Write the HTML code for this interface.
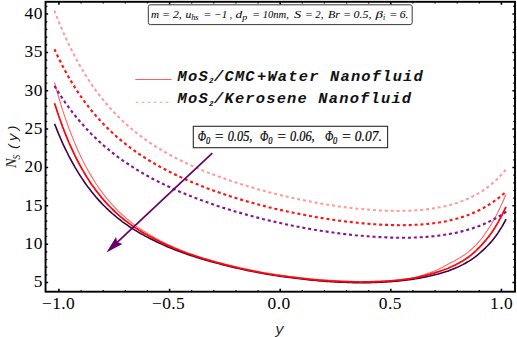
<!DOCTYPE html>
<html lang="en">
<head>
<meta charset="utf-8">
<title>Ns(y) plot</title>
<style>
html,body{margin:0;padding:0;background:#fff;}
body{width:517px;height:337px;overflow:hidden;}
svg{display:block;}
.ser{font-family:"Liberation Serif","DejaVu Serif",serif;}
.mono{font-family:"Liberation Mono","DejaVu Sans Mono",monospace;}
</style>
</head>
<body>
<svg width="517" height="337" viewBox="0 0 517 337">
<rect width="517" height="337" fill="#fff"/>

<!-- curves -->
<g fill="none" stroke-linejoin="round">
<path d="M54.5 123.7 L56.6 128.9 L58.6 133.9 L60.7 138.7 L62.7 143.4 L64.8 147.8 L66.9 152.0 L68.9 156.1 L71.0 160.0 L73.1 163.8 L75.1 167.4 L77.2 170.9 L79.2 174.2 L81.3 177.4 L83.4 180.5 L85.4 183.5 L87.5 186.4 L89.6 189.1 L91.6 191.7 L93.7 194.3 L95.7 196.7 L97.8 199.1 L99.9 201.4 L101.9 203.6 L104.0 205.7 L106.1 207.8 L108.1 209.7 L110.2 211.6 L112.2 213.5 L114.3 215.2 L116.4 217.0 L118.4 218.6 L120.5 220.2 L122.5 221.8 L124.6 223.3 L126.7 224.7 L128.7 226.2 L130.8 227.5 L132.9 228.9 L134.9 230.1 L137.0 231.4 L139.0 232.6 L141.1 233.8 L143.2 234.9 L145.2 236.1 L147.3 237.1 L149.4 238.2 L151.4 239.2 L153.5 240.2 L155.5 241.2 L157.6 242.2 L159.7 243.2 L161.7 244.1 L163.8 245.1 L165.9 246.0 L167.9 246.9 L170.0 247.7 L172.0 248.6 L174.1 249.4 L176.2 250.3 L178.2 251.1 L180.3 251.8 L182.4 252.6 L184.4 253.3 L186.5 254.1 L188.5 254.8 L190.6 255.5 L192.7 256.1 L194.7 256.8 L196.8 257.4 L198.8 258.1 L200.9 258.7 L203.0 259.3 L205.0 259.9 L207.1 260.5 L209.2 261.1 L211.2 261.6 L213.3 262.2 L215.3 262.8 L217.4 263.3 L219.5 263.8 L221.5 264.4 L223.6 264.9 L225.7 265.4 L227.7 265.9 L229.8 266.4 L231.8 266.9 L233.9 267.4 L236.0 267.9 L238.0 268.3 L240.1 268.8 L242.2 269.2 L244.2 269.7 L246.3 270.1 L248.3 270.6 L250.4 271.0 L252.5 271.4 L254.5 271.8 L256.6 272.2 L258.6 272.6 L260.7 273.0 L262.8 273.4 L264.8 273.8 L266.9 274.1 L269.0 274.5 L271.0 274.8 L273.1 275.1 L275.1 275.4 L277.2 275.8 L279.3 276.1 L281.3 276.4 L283.4 276.6 L285.5 276.9 L287.5 277.2 L289.6 277.5 L291.6 277.7 L293.7 278.0 L295.8 278.3 L297.8 278.5 L299.9 278.8 L302.0 279.0 L304.0 279.3 L306.1 279.5 L308.1 279.7 L310.2 279.9 L312.3 280.1 L314.3 280.3 L316.4 280.5 L318.4 280.7 L320.5 280.9 L322.6 281.0 L324.6 281.2 L326.7 281.4 L328.8 281.5 L330.8 281.6 L332.9 281.8 L334.9 281.9 L337.0 282.0 L339.1 282.1 L341.1 282.2 L343.2 282.3 L345.3 282.3 L347.3 282.4 L349.4 282.5 L351.4 282.5 L353.5 282.6 L355.6 282.6 L357.6 282.6 L359.7 282.6 L361.8 282.6 L363.8 282.6 L365.9 282.6 L367.9 282.6 L370.0 282.6 L372.1 282.5 L374.1 282.5 L376.2 282.4 L378.2 282.3 L380.3 282.2 L382.4 282.1 L384.4 282.0 L386.5 281.9 L388.6 281.8 L390.6 281.6 L392.7 281.4 L394.7 281.3 L396.8 281.1 L398.9 280.9 L400.9 280.7 L403.0 280.5 L405.1 280.2 L407.1 280.0 L409.2 279.7 L411.2 279.4 L413.3 279.1 L415.4 278.8 L417.4 278.4 L419.5 278.1 L421.6 277.7 L423.6 277.3 L425.7 276.9 L427.7 276.4 L429.8 276.0 L431.9 275.5 L433.9 275.0 L436.0 274.5 L438.1 274.0 L440.1 273.4 L442.2 272.8 L444.2 272.2 L446.3 271.6 L448.4 270.9 L450.4 270.1 L452.5 269.3 L454.5 268.5 L456.6 267.6 L458.7 266.6 L460.7 265.6 L462.8 264.6 L464.9 263.5 L466.9 262.3 L469.0 261.1 L471.0 259.8 L473.1 258.4 L475.2 256.9 L477.2 255.3 L479.3 253.5 L481.4 251.7 L483.4 249.8 L485.5 247.8 L487.5 245.8 L489.6 243.6 L491.7 241.2 L493.7 238.7 L495.8 236.0 L497.9 233.1 L499.9 229.9 L502.0 226.6 L504.0 223.0 L506.1 219.1" stroke="#3a0446" stroke-width="1.6"/>
<path d="M54.5 82.4 L56.6 89.9 L58.6 97.0 L60.7 103.9 L62.7 110.4 L64.8 116.6 L66.9 122.6 L68.9 128.3 L71.0 133.7 L73.1 138.9 L75.1 143.9 L77.2 148.7 L79.2 153.2 L81.3 157.5 L83.4 161.7 L85.4 165.7 L87.5 169.5 L89.5 173.1 L91.6 176.6 L93.7 180.0 L95.7 183.2 L97.8 186.3 L99.8 189.2 L101.9 192.1 L104.0 194.8 L106.0 197.4 L108.1 199.9 L110.2 202.3 L112.2 204.7 L114.3 206.9 L116.3 209.0 L118.4 211.1 L120.5 213.1 L122.5 215.0 L124.6 216.8 L126.6 218.6 L128.7 220.3 L130.8 222.0 L132.8 223.6 L134.9 225.1 L136.9 226.6 L139.0 228.1 L141.1 229.5 L143.1 230.8 L145.2 232.1 L147.3 233.4 L149.3 234.6 L151.4 235.8 L153.4 237.0 L155.5 238.2 L157.6 239.3 L159.6 240.4 L161.7 241.4 L163.7 242.5 L165.8 243.5 L167.9 244.5 L169.9 245.5 L172.0 246.4 L174.0 247.3 L176.1 248.2 L178.2 249.1 L180.2 250.0 L182.3 250.8 L184.4 251.6 L186.4 252.4 L188.5 253.2 L190.5 253.9 L192.6 254.6 L194.7 255.3 L196.7 256.0 L198.8 256.7 L200.8 257.3 L202.9 258.0 L205.0 258.6 L207.0 259.2 L209.1 259.8 L211.2 260.4 L213.2 261.0 L215.3 261.6 L217.3 262.2 L219.4 262.7 L221.5 263.3 L223.5 263.8 L225.6 264.3 L227.6 264.8 L229.7 265.3 L231.8 265.8 L233.8 266.3 L235.9 266.8 L237.9 267.3 L240.0 267.8 L242.1 268.2 L244.1 268.7 L246.2 269.1 L248.3 269.5 L250.3 269.9 L252.4 270.4 L254.4 270.8 L256.5 271.2 L258.6 271.6 L260.6 272.0 L262.7 272.3 L264.7 272.7 L266.8 273.0 L268.9 273.4 L270.9 273.7 L273.0 274.0 L275.0 274.3 L277.1 274.7 L279.2 274.9 L281.2 275.2 L283.3 275.5 L285.4 275.8 L287.4 276.1 L289.5 276.3 L291.5 276.6 L293.6 276.8 L295.7 277.1 L297.7 277.3 L299.8 277.6 L301.8 277.8 L303.9 278.1 L306.0 278.3 L308.0 278.5 L310.1 278.7 L312.1 278.9 L314.2 279.1 L316.3 279.3 L318.3 279.5 L320.4 279.7 L322.5 279.8 L324.5 280.0 L326.6 280.1 L328.6 280.3 L330.7 280.4 L332.8 280.6 L334.8 280.7 L336.9 280.8 L338.9 280.9 L341.0 281.0 L343.1 281.1 L345.1 281.2 L347.2 281.2 L349.2 281.3 L351.3 281.4 L353.4 281.4 L355.4 281.5 L357.5 281.5 L359.6 281.5 L361.6 281.5 L363.7 281.5 L365.7 281.5 L367.8 281.5 L369.9 281.5 L371.9 281.4 L374.0 281.4 L376.0 281.3 L378.1 281.3 L380.2 281.2 L382.2 281.1 L384.3 281.0 L386.4 280.8 L388.4 280.7 L390.5 280.5 L392.5 280.4 L394.6 280.2 L396.7 280.0 L398.7 279.8 L400.8 279.5 L402.8 279.3 L404.9 279.0 L407.0 278.7 L409.0 278.4 L411.1 278.0 L413.1 277.7 L415.2 277.2 L417.3 276.8 L419.3 276.2 L421.4 275.6 L423.5 275.0 L425.5 274.3 L427.6 273.6 L429.6 272.9 L431.7 272.1 L433.8 271.3 L435.8 270.4 L437.9 269.4 L439.9 268.4 L442.0 267.4 L444.1 266.3 L446.1 265.2 L448.2 264.1 L450.2 263.0 L452.3 261.9 L454.4 260.9 L456.4 259.8 L458.5 258.6 L460.6 257.4 L462.6 256.1 L464.7 254.7 L466.7 253.1 L468.8 251.6 L470.9 249.8 L472.9 248.0 L475.0 246.0 L477.0 243.8 L479.1 241.5 L481.2 239.0 L483.2 236.3 L485.3 233.5 L487.3 230.5 L489.4 227.4 L491.5 224.0 L493.5 220.5 L495.6 216.7 L497.7 212.7 L499.7 208.5 L501.8 204.1 L503.8 199.4 L505.9 194.4" stroke="#ff6a6a" stroke-width="1.15"/>
<path d="M54.5 103.2 L56.6 109.6 L58.6 115.7 L60.7 121.5 L62.7 127.1 L64.8 132.5 L66.9 137.6 L68.9 142.5 L71.0 147.2 L73.1 151.7 L75.1 155.9 L77.2 160.0 L79.2 164.0 L81.3 167.7 L83.4 171.4 L85.4 174.8 L87.5 178.1 L89.5 181.3 L91.6 184.4 L93.7 187.3 L95.7 190.1 L97.8 192.8 L99.9 195.4 L101.9 197.9 L104.0 200.3 L106.0 202.6 L108.1 204.8 L110.2 207.0 L112.2 209.0 L114.3 211.0 L116.3 212.9 L118.4 214.8 L120.5 216.6 L122.5 218.3 L124.6 220.0 L126.7 221.6 L128.7 223.1 L130.8 224.6 L132.8 226.1 L134.9 227.5 L137.0 228.8 L139.0 230.2 L141.1 231.4 L143.2 232.7 L145.2 233.9 L147.3 235.1 L149.3 236.2 L151.4 237.3 L153.5 238.4 L155.5 239.5 L157.6 240.5 L159.6 241.6 L161.7 242.6 L163.8 243.5 L165.8 244.5 L167.9 245.5 L170.0 246.4 L172.0 247.3 L174.1 248.2 L176.1 249.0 L178.2 249.9 L180.3 250.7 L182.3 251.5 L184.4 252.3 L186.4 253.0 L188.5 253.8 L190.6 254.5 L192.6 255.2 L194.7 255.9 L196.8 256.5 L198.8 257.2 L200.9 257.9 L202.9 258.5 L205.0 259.1 L207.1 259.7 L209.1 260.3 L211.2 260.9 L213.2 261.5 L215.3 262.1 L217.4 262.6 L219.4 263.2 L221.5 263.7 L223.6 264.3 L225.6 264.8 L227.7 265.3 L229.7 265.8 L231.8 266.3 L233.9 266.8 L235.9 267.3 L238.0 267.8 L240.0 268.3 L242.1 268.7 L244.2 269.2 L246.2 269.6 L248.3 270.1 L250.4 270.5 L252.4 270.9 L254.5 271.3 L256.5 271.7 L258.6 272.1 L260.7 272.5 L262.7 272.9 L264.8 273.3 L266.8 273.6 L268.9 274.0 L271.0 274.3 L273.0 274.6 L275.1 275.0 L277.2 275.3 L279.2 275.6 L281.3 275.9 L283.3 276.1 L285.4 276.4 L287.5 276.7 L289.5 277.0 L291.6 277.2 L293.7 277.5 L295.7 277.7 L297.8 278.0 L299.8 278.2 L301.9 278.5 L304.0 278.7 L306.0 278.9 L308.1 279.1 L310.1 279.4 L312.2 279.6 L314.3 279.8 L316.3 279.9 L318.4 280.1 L320.5 280.3 L322.5 280.4 L324.6 280.6 L326.6 280.7 L328.7 280.9 L330.8 281.0 L332.8 281.1 L334.9 281.2 L336.9 281.4 L339.0 281.4 L341.1 281.5 L343.1 281.6 L345.2 281.7 L347.3 281.7 L349.3 281.8 L351.4 281.9 L353.4 281.9 L355.5 281.9 L357.6 281.9 L359.6 282.0 L361.7 282.0 L363.7 281.9 L365.8 281.9 L367.9 281.9 L369.9 281.9 L372.0 281.8 L374.1 281.8 L376.1 281.7 L378.2 281.6 L380.2 281.5 L382.3 281.4 L384.4 281.3 L386.4 281.1 L388.5 281.0 L390.5 280.8 L392.6 280.7 L394.7 280.5 L396.7 280.3 L398.8 280.1 L400.9 279.9 L402.9 279.6 L405.0 279.4 L407.0 279.1 L409.1 278.8 L411.2 278.5 L413.2 278.1 L415.3 277.8 L417.3 277.3 L419.4 276.9 L421.5 276.4 L423.5 275.9 L425.6 275.4 L427.7 274.8 L429.7 274.3 L431.8 273.7 L433.8 273.1 L435.9 272.4 L438.0 271.8 L440.0 271.2 L442.1 270.5 L444.2 269.7 L446.2 269.0 L448.3 268.2 L450.3 267.3 L452.4 266.3 L454.5 265.4 L456.5 264.3 L458.6 263.2 L460.6 262.1 L462.7 260.9 L464.8 259.6 L466.8 258.2 L468.9 256.7 L471.0 255.1 L473.0 253.3 L475.1 251.5 L477.1 249.5 L479.2 247.5 L481.3 245.3 L483.3 243.1 L485.4 240.7 L487.4 238.2 L489.5 235.6 L491.6 232.7 L493.6 229.7 L495.7 226.4 L497.8 222.9 L499.8 219.2 L501.9 215.4 L503.9 211.2 L506.0 206.8" stroke="#ff0505" stroke-width="1.75"/>
<path d="M54.4 10.5 L56.5 15.9 L58.5 21.1 L60.6 26.1 L62.6 30.9 L64.7 35.6 L66.8 40.1 L68.8 44.5 L70.9 48.7 L73.0 52.8 L75.0 56.8 L77.1 60.6 L79.1 64.3 L81.2 67.9 L83.3 71.4 L85.3 74.8 L87.4 78.0 L89.5 81.2 L91.5 84.3 L93.6 87.2 L95.6 90.1 L97.7 92.9 L99.8 95.6 L101.8 98.3 L103.9 100.8 L106.0 103.3 L108.0 105.7 L110.1 108.1 L112.1 110.3 L114.2 112.5 L116.3 114.7 L118.3 116.8 L120.4 118.8 L122.4 120.8 L124.5 122.7 L126.6 124.6 L128.6 126.4 L130.7 128.2 L132.8 129.9 L134.8 131.6 L136.9 133.2 L138.9 134.8 L141.0 136.4 L143.1 137.9 L145.1 139.4 L147.2 140.9 L149.3 142.3 L151.3 143.7 L153.4 145.0 L155.4 146.3 L157.5 147.6 L159.6 148.9 L161.6 150.1 L163.7 151.4 L165.8 152.6 L167.8 153.7 L169.9 154.9 L171.9 156.0 L174.0 157.1 L176.1 158.1 L178.1 159.2 L180.2 160.2 L182.3 161.2 L184.3 162.2 L186.4 163.2 L188.4 164.2 L190.5 165.1 L192.6 166.1 L194.6 167.0 L196.7 167.9 L198.7 168.8 L200.8 169.6 L202.9 170.5 L204.9 171.3 L207.0 172.1 L209.1 173.0 L211.1 173.8 L213.2 174.5 L215.2 175.3 L217.3 176.1 L219.4 176.8 L221.4 177.6 L223.5 178.3 L225.6 179.0 L227.6 179.8 L229.7 180.5 L231.7 181.2 L233.8 181.8 L235.9 182.5 L237.9 183.2 L240.0 183.8 L242.1 184.5 L244.1 185.1 L246.2 185.8 L248.2 186.4 L250.3 187.0 L252.4 187.6 L254.4 188.2 L256.5 188.8 L258.5 189.4 L260.6 189.9 L262.7 190.5 L264.7 191.1 L266.8 191.6 L268.9 192.2 L270.9 192.7 L273.0 193.2 L275.0 193.7 L277.1 194.3 L279.2 194.8 L281.2 195.3 L283.3 195.8 L285.4 196.3 L287.4 196.7 L289.5 197.2 L291.5 197.7 L293.6 198.1 L295.7 198.6 L297.7 199.0 L299.8 199.5 L301.9 199.9 L303.9 200.3 L306.0 200.7 L308.0 201.1 L310.1 201.5 L312.2 201.9 L314.2 202.3 L316.3 202.7 L318.3 203.1 L320.4 203.4 L322.5 203.8 L324.5 204.1 L326.6 204.5 L328.7 204.8 L330.7 205.2 L332.8 205.5 L334.8 205.8 L336.9 206.1 L339.0 206.4 L341.0 206.7 L343.1 206.9 L345.2 207.2 L347.2 207.5 L349.3 207.7 L351.3 208.0 L353.4 208.2 L355.5 208.4 L357.5 208.7 L359.6 208.9 L361.7 209.1 L363.7 209.3 L365.8 209.5 L367.8 209.6 L369.9 209.8 L372.0 209.9 L374.0 210.1 L376.1 210.2 L378.1 210.3 L380.2 210.4 L382.3 210.5 L384.3 210.6 L386.4 210.7 L388.5 210.8 L390.5 210.8 L392.6 210.8 L394.6 210.9 L396.7 210.9 L398.8 210.9 L400.8 210.9 L402.9 210.8 L405.0 210.8 L407.0 210.7 L409.1 210.7 L411.1 210.6 L413.2 210.5 L415.3 210.3 L417.3 210.2 L419.4 210.0 L421.5 209.9 L423.5 209.7 L425.6 209.4 L427.6 209.2 L429.7 208.9 L431.8 208.6 L433.8 208.3 L435.9 208.0 L438.0 207.6 L440.0 207.3 L442.1 206.8 L444.1 206.4 L446.2 205.9 L448.3 205.4 L450.3 204.9 L452.4 204.3 L454.4 203.7 L456.5 203.1 L458.6 202.4 L460.6 201.6 L462.7 200.9 L464.8 200.1 L466.8 199.2 L468.9 198.3 L470.9 197.3 L473.0 196.3 L475.1 195.2 L477.1 194.1 L479.2 192.9 L481.3 191.6 L483.3 190.3 L485.4 188.8 L487.4 187.3 L489.5 185.8 L491.6 184.1 L493.6 182.3 L495.7 180.5 L497.8 178.5 L499.8 176.4 L501.9 174.2 L503.9 171.9 L506.0 169.4" stroke="#ff9a9a" stroke-width="2.05" stroke-dasharray="3 2.9"/>
<path d="M54.4 49.2 L56.5 53.6 L58.5 57.9 L60.6 62.1 L62.6 66.1 L64.7 70.0 L66.8 73.8 L68.8 77.4 L70.9 80.9 L73.0 84.3 L75.0 87.6 L77.1 90.8 L79.1 93.9 L81.2 96.9 L83.3 99.8 L85.3 102.6 L87.4 105.3 L89.4 108.0 L91.5 110.5 L93.6 113.0 L95.6 115.4 L97.7 117.8 L99.8 120.1 L101.8 122.3 L103.9 124.5 L105.9 126.6 L108.0 128.6 L110.1 130.6 L112.1 132.5 L114.2 134.4 L116.2 136.3 L118.3 138.1 L120.4 139.8 L122.4 141.5 L124.5 143.2 L126.6 144.8 L128.6 146.4 L130.7 148.0 L132.7 149.5 L134.8 151.0 L136.9 152.4 L138.9 153.8 L141.0 155.2 L143.1 156.6 L145.1 157.9 L147.2 159.2 L149.2 160.5 L151.3 161.7 L153.4 163.0 L155.4 164.2 L157.5 165.3 L159.5 166.5 L161.6 167.6 L163.7 168.7 L165.7 169.8 L167.8 170.9 L169.9 172.0 L171.9 173.0 L174.0 174.0 L176.0 175.0 L178.1 176.0 L180.2 176.9 L182.2 177.9 L184.3 178.8 L186.3 179.7 L188.4 180.6 L190.5 181.5 L192.5 182.4 L194.6 183.3 L196.7 184.1 L198.7 184.9 L200.8 185.8 L202.8 186.6 L204.9 187.4 L207.0 188.2 L209.0 188.9 L211.1 189.7 L213.1 190.4 L215.2 191.2 L217.3 191.9 L219.3 192.6 L221.4 193.3 L223.5 194.0 L225.5 194.7 L227.6 195.4 L229.6 196.1 L231.7 196.7 L233.8 197.4 L235.8 198.0 L237.9 198.6 L239.9 199.3 L242.0 199.9 L244.1 200.5 L246.1 201.1 L248.2 201.7 L250.3 202.3 L252.3 202.8 L254.4 203.4 L256.4 204.0 L258.5 204.5 L260.6 205.1 L262.6 205.6 L264.7 206.1 L266.7 206.6 L268.8 207.2 L270.9 207.7 L272.9 208.2 L275.0 208.7 L277.1 209.1 L279.1 209.6 L281.2 210.1 L283.2 210.6 L285.3 211.0 L287.4 211.5 L289.4 211.9 L291.5 212.3 L293.6 212.8 L295.6 213.2 L297.7 213.6 L299.7 214.0 L301.8 214.4 L303.9 214.8 L305.9 215.2 L308.0 215.6 L310.0 216.0 L312.1 216.3 L314.2 216.7 L316.2 217.1 L318.3 217.4 L320.4 217.8 L322.4 218.1 L324.5 218.4 L326.5 218.8 L328.6 219.1 L330.7 219.4 L332.7 219.7 L334.8 220.0 L336.8 220.3 L338.9 220.6 L341.0 220.8 L343.0 221.1 L345.1 221.4 L347.2 221.6 L349.2 221.9 L351.3 222.1 L353.3 222.3 L355.4 222.6 L357.5 222.8 L359.5 223.0 L361.6 223.2 L363.6 223.4 L365.7 223.5 L367.8 223.7 L369.8 223.9 L371.9 224.0 L374.0 224.2 L376.0 224.3 L378.1 224.5 L380.1 224.6 L382.2 224.7 L384.3 224.8 L386.3 224.9 L388.4 224.9 L390.4 225.0 L392.5 225.1 L394.6 225.1 L396.6 225.1 L398.7 225.2 L400.8 225.2 L402.8 225.2 L404.9 225.1 L406.9 225.1 L409.0 225.1 L411.1 225.0 L413.1 224.9 L415.2 224.8 L417.2 224.7 L419.3 224.6 L421.4 224.5 L423.4 224.3 L425.5 224.1 L427.6 223.9 L429.6 223.7 L431.7 223.5 L433.7 223.2 L435.8 222.9 L437.9 222.6 L439.9 222.3 L442.0 221.9 L444.1 221.6 L446.1 221.2 L448.2 220.7 L450.2 220.3 L452.3 219.8 L454.4 219.3 L456.4 218.7 L458.5 218.1 L460.5 217.5 L462.6 216.9 L464.7 216.2 L466.7 215.5 L468.8 214.7 L470.9 213.9 L472.9 213.0 L475.0 212.1 L477.0 211.2 L479.1 210.2 L481.2 209.2 L483.2 208.1 L485.3 206.9 L487.3 205.7 L489.4 204.4 L491.5 203.1 L493.5 201.7 L495.6 200.3 L497.7 198.7 L499.7 197.1 L501.8 195.4 L503.8 193.7 L505.9 191.8" stroke="#ff1212" stroke-width="2.15" stroke-dasharray="3 2.9"/>
<path d="M54.5 85.9 L56.6 89.3 L58.6 92.6 L60.7 95.8 L62.8 98.9 L64.8 101.9 L66.9 104.8 L68.9 107.7 L71.0 110.4 L73.1 113.1 L75.1 115.7 L77.2 118.2 L79.3 120.7 L81.3 123.1 L83.4 125.4 L85.4 127.7 L87.5 129.9 L89.6 132.1 L91.6 134.2 L93.7 136.2 L95.8 138.2 L97.8 140.2 L99.9 142.1 L101.9 143.9 L104.0 145.8 L106.1 147.5 L108.1 149.2 L110.2 150.9 L112.3 152.6 L114.3 154.2 L116.4 155.8 L118.4 157.3 L120.5 158.8 L122.6 160.3 L124.6 161.7 L126.7 163.1 L128.8 164.5 L130.8 165.9 L132.9 167.2 L134.9 168.5 L137.0 169.8 L139.1 171.0 L141.1 172.3 L143.2 173.5 L145.3 174.6 L147.3 175.8 L149.4 176.9 L151.4 178.1 L153.5 179.2 L155.6 180.2 L157.6 181.3 L159.7 182.3 L161.8 183.4 L163.8 184.4 L165.9 185.4 L167.9 186.3 L170.0 187.3 L172.1 188.3 L174.1 189.2 L176.2 190.1 L178.3 191.0 L180.3 191.9 L182.4 192.8 L184.4 193.6 L186.5 194.5 L188.6 195.3 L190.6 196.1 L192.7 197.0 L194.8 197.8 L196.8 198.5 L198.9 199.3 L200.9 200.1 L203.0 200.8 L205.1 201.6 L207.1 202.3 L209.2 203.1 L211.3 203.8 L213.3 204.5 L215.4 205.2 L217.4 205.9 L219.5 206.6 L221.6 207.2 L223.6 207.9 L225.7 208.5 L227.8 209.2 L229.8 209.8 L231.9 210.4 L233.9 211.1 L236.0 211.7 L238.1 212.3 L240.1 212.9 L242.2 213.5 L244.3 214.1 L246.3 214.6 L248.4 215.2 L250.4 215.8 L252.5 216.3 L254.6 216.8 L256.6 217.4 L258.7 217.9 L260.8 218.4 L262.8 219.0 L264.9 219.5 L266.9 220.0 L269.0 220.5 L271.1 221.0 L273.1 221.4 L275.2 221.9 L277.3 222.4 L279.3 222.8 L281.4 223.3 L283.4 223.7 L285.5 224.2 L287.6 224.6 L289.6 225.0 L291.7 225.5 L293.8 225.9 L295.8 226.3 L297.9 226.7 L299.9 227.1 L302.0 227.5 L304.1 227.9 L306.1 228.2 L308.2 228.6 L310.3 229.0 L312.3 229.3 L314.4 229.7 L316.4 230.0 L318.5 230.4 L320.6 230.7 L322.6 231.0 L324.7 231.3 L326.8 231.6 L328.8 231.9 L330.9 232.2 L332.9 232.5 L335.0 232.8 L337.1 233.1 L339.1 233.4 L341.2 233.6 L343.3 233.9 L345.3 234.1 L347.4 234.4 L349.4 234.6 L351.5 234.8 L353.6 235.0 L355.6 235.3 L357.7 235.5 L359.8 235.6 L361.8 235.8 L363.9 236.0 L365.9 236.2 L368.0 236.3 L370.1 236.5 L372.1 236.6 L374.2 236.8 L376.3 236.9 L378.3 237.0 L380.4 237.1 L382.4 237.2 L384.5 237.3 L386.6 237.4 L388.6 237.5 L390.7 237.6 L392.8 237.6 L394.8 237.7 L396.9 237.7 L398.9 237.7 L401.0 237.7 L403.1 237.7 L405.1 237.7 L407.2 237.7 L409.3 237.7 L411.3 237.6 L413.4 237.5 L415.4 237.5 L417.5 237.4 L419.6 237.3 L421.6 237.2 L423.7 237.0 L425.8 236.9 L427.8 236.7 L429.9 236.6 L431.9 236.4 L434.0 236.2 L436.1 235.9 L438.1 235.7 L440.2 235.4 L442.3 235.1 L444.3 234.8 L446.4 234.5 L448.4 234.2 L450.5 233.8 L452.6 233.4 L454.6 233.0 L456.7 232.6 L458.8 232.1 L460.8 231.6 L462.9 231.1 L464.9 230.6 L467.0 230.0 L469.1 229.4 L471.1 228.7 L473.2 228.1 L475.3 227.4 L477.3 226.6 L479.4 225.9 L481.4 225.1 L483.5 224.2 L485.6 223.3 L487.6 222.4 L489.7 221.4 L491.8 220.4 L493.8 219.3 L495.9 218.2 L497.9 217.0 L500.0 215.8 L502.1 214.5 L504.1 213.2 L506.2 211.7" stroke="#851593" stroke-width="2.15" stroke-dasharray="3 2.9"/>
</g>

<!-- frame -->
<g fill="none" stroke="#000" stroke-width="1.3">
<path stroke-width="1.6" d="M58.9 291.7 v-2.9 M58.9 1.8 v2.9"/>
<path stroke-width="1.2" d="M81.1 291.7 v-1.8 M81.1 1.8 v1.8"/>
<path stroke-width="1.2" d="M103.2 291.7 v-1.8 M103.2 1.8 v1.8"/>
<path stroke-width="1.2" d="M125.3 291.7 v-1.8 M125.3 1.8 v1.8"/>
<path stroke-width="1.2" d="M147.4 291.7 v-1.8 M147.4 1.8 v1.8"/>
<path stroke-width="1.6" d="M169.6 291.7 v-2.9 M169.6 1.8 v2.9"/>
<path stroke-width="1.2" d="M191.7 291.7 v-1.8 M191.7 1.8 v1.8"/>
<path stroke-width="1.2" d="M213.8 291.7 v-1.8 M213.8 1.8 v1.8"/>
<path stroke-width="1.2" d="M235.9 291.7 v-1.8 M235.9 1.8 v1.8"/>
<path stroke-width="1.2" d="M258.1 291.7 v-1.8 M258.1 1.8 v1.8"/>
<path stroke-width="1.6" d="M280.2 291.7 v-2.9 M280.2 1.8 v2.9"/>
<path stroke-width="1.2" d="M302.3 291.7 v-1.8 M302.3 1.8 v1.8"/>
<path stroke-width="1.2" d="M324.4 291.7 v-1.8 M324.4 1.8 v1.8"/>
<path stroke-width="1.2" d="M346.6 291.7 v-1.8 M346.6 1.8 v1.8"/>
<path stroke-width="1.2" d="M368.7 291.7 v-1.8 M368.7 1.8 v1.8"/>
<path stroke-width="1.6" d="M390.8 291.7 v-2.9 M390.8 1.8 v2.9"/>
<path stroke-width="1.2" d="M412.9 291.7 v-1.8 M412.9 1.8 v1.8"/>
<path stroke-width="1.2" d="M435.1 291.7 v-1.8 M435.1 1.8 v1.8"/>
<path stroke-width="1.2" d="M457.2 291.7 v-1.8 M457.2 1.8 v1.8"/>
<path stroke-width="1.2" d="M479.3 291.7 v-1.8 M479.3 1.8 v1.8"/>
<path stroke-width="1.6" d="M501.4 291.7 v-2.9 M501.4 1.8 v2.9"/>
<path stroke-width="1.5" d="M45.55 282.5 h2.6 M515.0 282.5 h-2.6"/>
<path stroke-width="1.2" d="M45.55 274.8 h1.8 M515.0 274.8 h-1.8"/>
<path stroke-width="1.2" d="M45.55 267.2 h1.8 M515.0 267.2 h-1.8"/>
<path stroke-width="1.2" d="M45.55 259.5 h1.8 M515.0 259.5 h-1.8"/>
<path stroke-width="1.2" d="M45.55 251.8 h1.8 M515.0 251.8 h-1.8"/>
<path stroke-width="1.5" d="M45.55 244.2 h2.6 M515.0 244.2 h-2.6"/>
<path stroke-width="1.2" d="M45.55 236.5 h1.8 M515.0 236.5 h-1.8"/>
<path stroke-width="1.2" d="M45.55 228.8 h1.8 M515.0 228.8 h-1.8"/>
<path stroke-width="1.2" d="M45.55 221.1 h1.8 M515.0 221.1 h-1.8"/>
<path stroke-width="1.2" d="M45.55 213.5 h1.8 M515.0 213.5 h-1.8"/>
<path stroke-width="1.5" d="M45.55 205.8 h2.6 M515.0 205.8 h-2.6"/>
<path stroke-width="1.2" d="M45.55 198.1 h1.8 M515.0 198.1 h-1.8"/>
<path stroke-width="1.2" d="M45.55 190.5 h1.8 M515.0 190.5 h-1.8"/>
<path stroke-width="1.2" d="M45.55 182.8 h1.8 M515.0 182.8 h-1.8"/>
<path stroke-width="1.2" d="M45.55 175.1 h1.8 M515.0 175.1 h-1.8"/>
<path stroke-width="1.5" d="M45.55 167.5 h2.6 M515.0 167.5 h-2.6"/>
<path stroke-width="1.2" d="M45.55 159.8 h1.8 M515.0 159.8 h-1.8"/>
<path stroke-width="1.2" d="M45.55 152.1 h1.8 M515.0 152.1 h-1.8"/>
<path stroke-width="1.2" d="M45.55 144.5 h1.8 M515.0 144.5 h-1.8"/>
<path stroke-width="1.2" d="M45.55 136.8 h1.8 M515.0 136.8 h-1.8"/>
<path stroke-width="1.5" d="M45.55 129.1 h2.6 M515.0 129.1 h-2.6"/>
<path stroke-width="1.2" d="M45.55 121.5 h1.8 M515.0 121.5 h-1.8"/>
<path stroke-width="1.2" d="M45.55 113.8 h1.8 M515.0 113.8 h-1.8"/>
<path stroke-width="1.2" d="M45.55 106.1 h1.8 M515.0 106.1 h-1.8"/>
<path stroke-width="1.2" d="M45.55 98.4 h1.8 M515.0 98.4 h-1.8"/>
<path stroke-width="1.5" d="M45.55 90.8 h2.6 M515.0 90.8 h-2.6"/>
<path stroke-width="1.2" d="M45.55 83.1 h1.8 M515.0 83.1 h-1.8"/>
<path stroke-width="1.2" d="M45.55 75.4 h1.8 M515.0 75.4 h-1.8"/>
<path stroke-width="1.2" d="M45.55 67.8 h1.8 M515.0 67.8 h-1.8"/>
<path stroke-width="1.2" d="M45.55 60.1 h1.8 M515.0 60.1 h-1.8"/>
<path stroke-width="1.5" d="M45.55 52.4 h2.6 M515.0 52.4 h-2.6"/>
<path stroke-width="1.2" d="M45.55 44.8 h1.8 M515.0 44.8 h-1.8"/>
<path stroke-width="1.2" d="M45.55 37.1 h1.8 M515.0 37.1 h-1.8"/>
<path stroke-width="1.2" d="M45.55 29.4 h1.8 M515.0 29.4 h-1.8"/>
<path stroke-width="1.2" d="M45.55 21.8 h1.8 M515.0 21.8 h-1.8"/>
<path stroke-width="1.5" d="M45.55 14.1 h2.6 M515.0 14.1 h-2.6"/>
<path stroke-width="1.2" d="M45.55 6.4 h1.8 M515.0 6.4 h-1.8"/>
</g>
<rect x="45.55" y="1.8" width="469.45" height="289.9" fill="none" stroke="#000" stroke-width="1.9"/>

<!-- tick labels -->
<g class="ser" font-size="17.4" fill="#000" letter-spacing="0.4">
<text x="42.8" y="287.4" text-anchor="end">5</text>
<text x="42.8" y="249.0" text-anchor="end">10</text>
<text x="42.8" y="210.6" text-anchor="end">15</text>
<text x="42.8" y="172.2" text-anchor="end">20</text>
<text x="42.8" y="133.9" text-anchor="end">25</text>
<text x="42.8" y="95.5" text-anchor="end">30</text>
<text x="42.8" y="57.1" text-anchor="end">35</text>
<text x="42.8" y="18.7" text-anchor="end">40</text>
<text x="58.5" y="309.4" text-anchor="middle">−1.0</text>
<text x="168.6" y="309.4" text-anchor="middle">−0.5</text>
<text x="279.1" y="309.4" text-anchor="middle">0.0</text>
<text x="390.3" y="309.4" text-anchor="middle">0.5</text>
<text x="501.6" y="309.4" text-anchor="middle">1.0</text>
</g>

<!-- axis labels -->
<text class="mono" x="279.5" y="333.5" text-anchor="middle" font-size="15" font-style="italic" fill="#222">y</text>
<g transform="translate(16,167.9) rotate(-90)" fill="#1a1a1a" font-style="italic">
<text class="ser" x="0" y="0" font-size="14.5">N</text>
<text class="ser" x="8.4" y="3.8" font-size="9.5">S</text>
<text class="mono" x="17.6" y="0.6" font-size="13.6" letter-spacing="0.7">(y)</text>
</g>

<!-- parameter box -->
<rect x="148.3" y="4.8" width="263.9" height="19.8" rx="2" ry="2" fill="#fcfcfc" stroke="#3a3a3a" stroke-width="1"/>
<g class="ser" font-size="11.4" font-style="italic" fill="#000">
<text x="150.9" y="18.0" textLength="8.1" lengthAdjust="spacingAndGlyphs">m</text>
<text x="162.1" y="18.0" textLength="8.1" lengthAdjust="spacingAndGlyphs">=</text>
<text x="172.9" y="18.0" textLength="8.8" lengthAdjust="spacingAndGlyphs">2,</text>
<text x="185.4" y="18.0" textLength="5.8" lengthAdjust="spacingAndGlyphs">u</text>
<text x="191.2" y="20.3" font-size="7.4" textLength="7.4" lengthAdjust="spacingAndGlyphs">hs</text>
<text x="203.2" y="18.0" textLength="8.2" lengthAdjust="spacingAndGlyphs">=</text>
<text x="214.3" y="18.0" textLength="13.0" lengthAdjust="spacingAndGlyphs">−1</text>
<text x="229.7" y="18.0" textLength="2.3" lengthAdjust="spacingAndGlyphs">,</text>
<text x="235.4" y="18.0" textLength="6.7" lengthAdjust="spacingAndGlyphs">d</text>
<text x="242.2" y="20.3" font-size="7.4" textLength="5.0" lengthAdjust="spacingAndGlyphs">p</text>
<text x="252.1" y="18.0" textLength="8.1" lengthAdjust="spacingAndGlyphs">=</text>
<text x="262.7" y="18.0" textLength="26.2" lengthAdjust="spacingAndGlyphs">10nm,</text>
<text x="294.1" y="18.0" textLength="7.2" lengthAdjust="spacingAndGlyphs">S</text>
<text x="304.7" y="18.0" textLength="8.1" lengthAdjust="spacingAndGlyphs">=</text>
<text x="315.3" y="18.0" textLength="8.1" lengthAdjust="spacingAndGlyphs">2,</text>
<text x="328.0" y="18.0" textLength="11.9" lengthAdjust="spacingAndGlyphs">Br</text>
<text x="343.0" y="18.0" textLength="8.1" lengthAdjust="spacingAndGlyphs">=</text>
<text x="353.6" y="18.0" textLength="18.0" lengthAdjust="spacingAndGlyphs">0.5,</text>
<text x="375.4" y="18.0" textLength="7.5" lengthAdjust="spacingAndGlyphs">β</text>
<text x="382.9" y="20.3" font-size="7.4" textLength="2.2" lengthAdjust="spacingAndGlyphs">i</text>
<text x="389.1" y="18.0" textLength="8.5" lengthAdjust="spacingAndGlyphs">=</text>
<text x="399.7" y="18.0" textLength="8.8" lengthAdjust="spacingAndGlyphs">6.</text>
</g>

<!-- legend -->
<path d="M135.3 79.4 H171.6" stroke="#ff5e5e" stroke-width="1.05" fill="none"/>
<path d="M135.8 102.3 H168.6" stroke="#ffa8a8" stroke-width="1.25" stroke-dasharray="2.6 3.4" fill="none"/>
<g class="mono" font-size="15.4" font-weight="bold" font-style="italic" fill="#111" letter-spacing="1.2">
<text x="177.6" y="81">MoS<tspan font-size="7.5" dy="2.2" letter-spacing="0.6">2</tspan><tspan dy="-2.2">/CMC</tspan><tspan dx="1.2">+Water Nanofluid</tspan></text>
<text x="177.6" y="103.4">MoS<tspan font-size="7.5" dy="2.2" letter-spacing="0.6">2</tspan><tspan dy="-2.2">/Kerosene Nanofluid</tspan></text>
</g>

<!-- phi box -->
<rect x="193.3" y="126.3" width="194.3" height="21.4" fill="#fff" stroke="#2a2a2a" stroke-width="1.1"/>
<g class="ser" font-size="13.6" font-style="italic" fill="#000" stroke="#000" stroke-width="0.22">
<text x="197.8" y="140.9" textLength="8.3" lengthAdjust="spacingAndGlyphs">Φ</text>
<text x="206.0" y="143.5" font-size="9.6" textLength="4.2" lengthAdjust="spacingAndGlyphs">0</text>
<text x="214.1" y="140.9" textLength="10.2" lengthAdjust="spacingAndGlyphs">=</text>
<text x="227.7" y="140.9" textLength="24.7" lengthAdjust="spacingAndGlyphs">0.05,</text>
<text x="260.1" y="140.9" textLength="8.3" lengthAdjust="spacingAndGlyphs">Φ</text>
<text x="268.3" y="143.5" font-size="9.6" textLength="4.2" lengthAdjust="spacingAndGlyphs">0</text>
<text x="276.4" y="140.9" textLength="10.2" lengthAdjust="spacingAndGlyphs">=</text>
<text x="290.0" y="140.9" textLength="24.7" lengthAdjust="spacingAndGlyphs">0.06,</text>
<text x="324.9" y="140.9" textLength="8.3" lengthAdjust="spacingAndGlyphs">Φ</text>
<text x="333.1" y="143.5" font-size="9.6" textLength="4.2" lengthAdjust="spacingAndGlyphs">0</text>
<text x="341.2" y="140.9" textLength="10.2" lengthAdjust="spacingAndGlyphs">=</text>
<text x="354.8" y="140.9" textLength="27.0" lengthAdjust="spacingAndGlyphs">0.07.</text>
</g>

<!-- arrow -->
<path d="M212.3 153.2 L116.6 242.8" stroke="#660066" stroke-width="1.7" fill="none"/>
<path d="M106.4 252.4 L116.0 237.0 L117.3 242.1 L122.4 243.9Z" fill="#6a006a"/>
</svg>
</body>
</html>
